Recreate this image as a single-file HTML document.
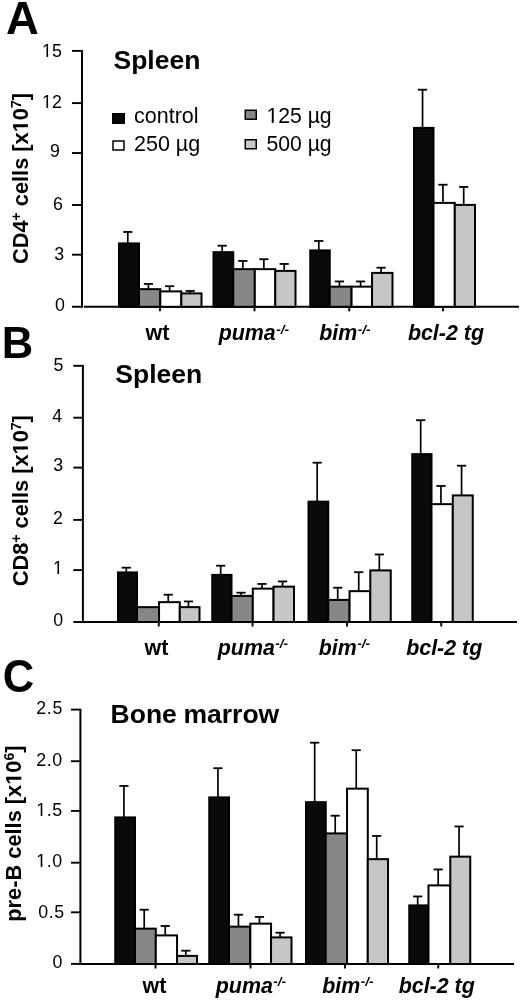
<!DOCTYPE html>
<html><head><meta charset="utf-8"><style>
html,body{margin:0;padding:0;background:#fff;}
svg{display:block;filter:grayscale(1);}
text{font-family:"Liberation Sans",sans-serif;fill:#000;}
</style></head><body>
<svg width="520" height="1001" viewBox="0 0 520 1001">
<rect width="520" height="1001" fill="#fff"/>
<text transform="translate(5.9,33.6) scale(1.045,1.07)" font-size="43.5" font-weight="bold">A</text>
<text x="113.5" y="68.6" font-size="26.5" font-weight="bold">Spleen</text>
<line x1="82" y1="50" x2="82" y2="307.8" stroke="#000" stroke-width="2"/>
<line x1="72" y1="50.90" x2="82" y2="50.90" stroke="#000" stroke-width="1.9"/>
<line x1="72" y1="103.10" x2="82" y2="103.10" stroke="#000" stroke-width="1.9"/>
<line x1="72" y1="153.00" x2="82" y2="153.00" stroke="#000" stroke-width="1.9"/>
<line x1="72" y1="205.00" x2="82" y2="205.00" stroke="#000" stroke-width="1.9"/>
<line x1="72" y1="254.70" x2="82" y2="254.70" stroke="#000" stroke-width="1.9"/>
<line x1="72" y1="306.75" x2="82" y2="306.75" stroke="#000" stroke-width="1.9"/>
<text x="61.85" y="56.63" font-size="17.8" text-anchor="end">15</text>
<text x="61.85" y="107.88" font-size="17.8" text-anchor="end">12</text>
<text x="59.80" y="157.13" font-size="17.8" text-anchor="end">9</text>
<text x="62.90" y="210.43" font-size="17.8" text-anchor="end">6</text>
<text x="64.10" y="260.08" font-size="17.8" text-anchor="end">3</text>
<text x="65.00" y="311.03" font-size="17.8" text-anchor="end">0</text>
<line x1="84" y1="306.8" x2="519" y2="306.8" stroke="#000" stroke-width="2"/>
<line x1="160" y1="306.8" x2="160" y2="311.3" stroke="#000" stroke-width="1.9"/>
<line x1="254.5" y1="306.8" x2="254.5" y2="311.3" stroke="#000" stroke-width="1.9"/>
<line x1="349.25" y1="306.8" x2="349.25" y2="311.3" stroke="#000" stroke-width="1.9"/>
<line x1="443" y1="306.8" x2="443" y2="311.3" stroke="#000" stroke-width="1.9"/>
<rect x="119.00" y="243.40" width="20.00" height="63.40" fill="#0a0a0a" stroke="#000" stroke-width="2"/>
<line x1="127.80" y1="243.40" x2="127.80" y2="231.95" stroke="#000" stroke-width="1.7"/>
<line x1="123.20" y1="231.95" x2="132.40" y2="231.95" stroke="#000" stroke-width="1.8"/>
<rect x="139.00" y="289.15" width="21.30" height="17.65" fill="#878787" stroke="#000" stroke-width="2"/>
<line x1="148.45" y1="289.15" x2="148.45" y2="283.95" stroke="#000" stroke-width="1.7"/>
<line x1="143.85" y1="283.95" x2="153.05" y2="283.95" stroke="#000" stroke-width="1.8"/>
<rect x="160.30" y="291.40" width="21.00" height="15.40" fill="#ffffff" stroke="#000" stroke-width="2"/>
<line x1="169.60" y1="291.40" x2="169.60" y2="286.20" stroke="#000" stroke-width="1.7"/>
<line x1="165.00" y1="286.20" x2="174.20" y2="286.20" stroke="#000" stroke-width="1.8"/>
<rect x="181.30" y="293.40" width="20.20" height="13.40" fill="#c6c6c6" stroke="#000" stroke-width="2"/>
<line x1="190.20" y1="293.40" x2="190.20" y2="290.95" stroke="#000" stroke-width="1.7"/>
<line x1="185.60" y1="290.95" x2="194.80" y2="290.95" stroke="#000" stroke-width="1.8"/>
<rect x="213.50" y="252.15" width="19.75" height="54.65" fill="#0a0a0a" stroke="#000" stroke-width="2"/>
<line x1="222.18" y1="252.15" x2="222.18" y2="245.70" stroke="#000" stroke-width="1.7"/>
<line x1="217.58" y1="245.70" x2="226.78" y2="245.70" stroke="#000" stroke-width="1.8"/>
<rect x="233.25" y="269.15" width="21.55" height="37.65" fill="#878787" stroke="#000" stroke-width="2"/>
<line x1="242.83" y1="269.15" x2="242.83" y2="260.95" stroke="#000" stroke-width="1.7"/>
<line x1="238.23" y1="260.95" x2="247.43" y2="260.95" stroke="#000" stroke-width="1.8"/>
<rect x="254.80" y="269.15" width="20.50" height="37.65" fill="#ffffff" stroke="#000" stroke-width="2"/>
<line x1="263.85" y1="269.15" x2="263.85" y2="259.20" stroke="#000" stroke-width="1.7"/>
<line x1="259.25" y1="259.20" x2="268.45" y2="259.20" stroke="#000" stroke-width="1.8"/>
<rect x="275.30" y="270.90" width="20.20" height="35.90" fill="#c6c6c6" stroke="#000" stroke-width="2"/>
<line x1="284.20" y1="270.90" x2="284.20" y2="263.95" stroke="#000" stroke-width="1.7"/>
<line x1="279.60" y1="263.95" x2="288.80" y2="263.95" stroke="#000" stroke-width="1.8"/>
<rect x="310.25" y="250.40" width="19.50" height="56.40" fill="#0a0a0a" stroke="#000" stroke-width="2"/>
<line x1="318.80" y1="250.40" x2="318.80" y2="240.95" stroke="#000" stroke-width="1.7"/>
<line x1="314.20" y1="240.95" x2="323.40" y2="240.95" stroke="#000" stroke-width="1.8"/>
<rect x="329.75" y="286.65" width="21.80" height="20.15" fill="#878787" stroke="#000" stroke-width="2"/>
<line x1="339.45" y1="286.65" x2="339.45" y2="281.45" stroke="#000" stroke-width="1.7"/>
<line x1="334.85" y1="281.45" x2="344.05" y2="281.45" stroke="#000" stroke-width="1.8"/>
<rect x="351.55" y="286.65" width="20.50" height="20.15" fill="#ffffff" stroke="#000" stroke-width="2"/>
<line x1="360.60" y1="286.65" x2="360.60" y2="281.45" stroke="#000" stroke-width="1.7"/>
<line x1="356.00" y1="281.45" x2="365.20" y2="281.45" stroke="#000" stroke-width="1.8"/>
<rect x="372.05" y="272.90" width="20.45" height="33.90" fill="#c6c6c6" stroke="#000" stroke-width="2"/>
<line x1="381.07" y1="272.90" x2="381.07" y2="267.70" stroke="#000" stroke-width="1.7"/>
<line x1="376.47" y1="267.70" x2="385.68" y2="267.70" stroke="#000" stroke-width="1.8"/>
<rect x="414.00" y="127.90" width="19.50" height="178.90" fill="#0a0a0a" stroke="#000" stroke-width="2"/>
<line x1="422.55" y1="127.90" x2="422.55" y2="89.70" stroke="#000" stroke-width="1.7"/>
<line x1="417.95" y1="89.70" x2="427.15" y2="89.70" stroke="#000" stroke-width="1.8"/>
<rect x="433.50" y="202.90" width="21.30" height="103.90" fill="#ffffff" stroke="#000" stroke-width="2"/>
<line x1="442.95" y1="202.90" x2="442.95" y2="184.70" stroke="#000" stroke-width="1.7"/>
<line x1="438.35" y1="184.70" x2="447.55" y2="184.70" stroke="#000" stroke-width="1.8"/>
<rect x="454.80" y="204.90" width="20.20" height="101.90" fill="#c6c6c6" stroke="#000" stroke-width="2"/>
<line x1="463.70" y1="204.90" x2="463.70" y2="186.95" stroke="#000" stroke-width="1.7"/>
<line x1="459.10" y1="186.95" x2="468.30" y2="186.95" stroke="#000" stroke-width="1.8"/>
<rect x="113" y="114" width="11" height="9" fill="#0a0a0a" stroke="#000" stroke-width="2"/>
<rect x="113" y="141" width="11" height="9" fill="#fff" stroke="#000" stroke-width="1.5"/>
<rect x="245.25" y="110.25" width="11" height="9" fill="#878787" stroke="#000" stroke-width="1.5"/>
<rect x="245.25" y="139.75" width="11" height="9" fill="#c6c6c6" stroke="#000" stroke-width="1.5"/>
<text x="134" y="123.4" font-size="21.5">control</text>
<text x="134" y="151.4" font-size="21.5">250 µg</text>
<text x="266.4" y="122.6" font-size="21.2">125 µg</text>
<text x="266.4" y="151.4" font-size="21.2">500 µg</text>
<text transform="translate(27.9,178.5) rotate(-90)" text-anchor="middle" font-size="21.8" font-weight="bold">CD4<tspan font-size="14" dy="-7.2">+</tspan><tspan dy="7.2"> cells [x10</tspan><tspan font-size="14" dy="-7.2">7</tspan><tspan dy="7.2">]</tspan></text>
<text x="145.5" y="340.4" font-size="21.4" font-weight="bold" font-style="normal">wt</text>
<text x="218.7" y="340.4" font-size="21.4" font-weight="bold" font-style="italic">puma<tspan font-size="13.6" dx="0.4" dy="-6.6">-/-</tspan></text>
<text x="319.3" y="340.4" font-size="21.4" font-weight="bold" font-style="italic">bim<tspan font-size="13.6" dx="0.4" dy="-6.6">-/-</tspan></text>
<text x="407.9" y="340.4" font-size="21.4" font-weight="bold" font-style="italic">bcl-2 tg</text>
<text transform="translate(1.8,357.5) scale(1,1.03)" font-size="43.5" font-weight="bold">B</text>
<text x="115.3" y="383.2" font-size="26.5" font-weight="bold">Spleen</text>
<line x1="82.9" y1="364.9" x2="82.9" y2="623" stroke="#000" stroke-width="2"/>
<line x1="73.3" y1="365.80" x2="82.9" y2="365.80" stroke="#000" stroke-width="1.9"/>
<line x1="73.3" y1="417.70" x2="82.9" y2="417.70" stroke="#000" stroke-width="1.9"/>
<line x1="73.3" y1="467.60" x2="82.9" y2="467.60" stroke="#000" stroke-width="1.9"/>
<line x1="73.3" y1="519.90" x2="82.9" y2="519.90" stroke="#000" stroke-width="1.9"/>
<line x1="73.3" y1="570.10" x2="82.9" y2="570.10" stroke="#000" stroke-width="1.9"/>
<line x1="73.3" y1="622.00" x2="82.9" y2="622.00" stroke="#000" stroke-width="1.9"/>
<text x="63.40" y="371.33" font-size="17.8" text-anchor="end">5</text>
<text x="62.20" y="421.93" font-size="17.8" text-anchor="end">4</text>
<text x="63.10" y="470.98" font-size="17.8" text-anchor="end">3</text>
<text x="62.85" y="523.53" font-size="17.8" text-anchor="end">2</text>
<text x="62.90" y="574.13" font-size="17.8" text-anchor="end">1</text>
<text x="63.10" y="625.83" font-size="17.8" text-anchor="end">0</text>
<line x1="82.9" y1="622" x2="517" y2="622" stroke="#000" stroke-width="2"/>
<line x1="158.75" y1="622" x2="158.75" y2="626.5" stroke="#000" stroke-width="1.9"/>
<line x1="252.5" y1="622" x2="252.5" y2="626.5" stroke="#000" stroke-width="1.9"/>
<line x1="347" y1="622" x2="347" y2="626.5" stroke="#000" stroke-width="1.9"/>
<line x1="441.25" y1="622" x2="441.25" y2="626.5" stroke="#000" stroke-width="1.9"/>
<rect x="118.00" y="572.40" width="19.00" height="49.60" fill="#0a0a0a" stroke="#000" stroke-width="2"/>
<line x1="126.30" y1="572.40" x2="126.30" y2="567.70" stroke="#000" stroke-width="1.7"/>
<line x1="121.70" y1="567.70" x2="130.90" y2="567.70" stroke="#000" stroke-width="1.8"/>
<rect x="137.00" y="607.15" width="22.05" height="14.85" fill="#878787" stroke="#000" stroke-width="2"/>
<rect x="159.05" y="602.15" width="20.75" height="19.85" fill="#ffffff" stroke="#000" stroke-width="2"/>
<line x1="168.23" y1="602.15" x2="168.23" y2="594.70" stroke="#000" stroke-width="1.7"/>
<line x1="163.63" y1="594.70" x2="172.83" y2="594.70" stroke="#000" stroke-width="1.8"/>
<rect x="179.80" y="607.15" width="19.70" height="14.85" fill="#c6c6c6" stroke="#000" stroke-width="2"/>
<line x1="188.45" y1="607.15" x2="188.45" y2="601.45" stroke="#000" stroke-width="1.7"/>
<line x1="183.85" y1="601.45" x2="193.05" y2="601.45" stroke="#000" stroke-width="1.8"/>
<rect x="212.25" y="574.90" width="19.25" height="47.10" fill="#0a0a0a" stroke="#000" stroke-width="2"/>
<line x1="220.68" y1="574.90" x2="220.68" y2="565.70" stroke="#000" stroke-width="1.7"/>
<line x1="216.08" y1="565.70" x2="225.28" y2="565.70" stroke="#000" stroke-width="1.8"/>
<rect x="231.50" y="595.90" width="21.30" height="26.10" fill="#878787" stroke="#000" stroke-width="2"/>
<line x1="240.95" y1="595.90" x2="240.95" y2="592.70" stroke="#000" stroke-width="1.7"/>
<line x1="236.35" y1="592.70" x2="245.55" y2="592.70" stroke="#000" stroke-width="1.8"/>
<rect x="252.80" y="588.65" width="20.75" height="33.35" fill="#ffffff" stroke="#000" stroke-width="2"/>
<line x1="261.98" y1="588.65" x2="261.98" y2="583.95" stroke="#000" stroke-width="1.7"/>
<line x1="257.38" y1="583.95" x2="266.58" y2="583.95" stroke="#000" stroke-width="1.8"/>
<rect x="273.55" y="586.65" width="20.45" height="35.35" fill="#c6c6c6" stroke="#000" stroke-width="2"/>
<line x1="282.57" y1="586.65" x2="282.57" y2="581.45" stroke="#000" stroke-width="1.7"/>
<line x1="277.97" y1="581.45" x2="287.18" y2="581.45" stroke="#000" stroke-width="1.8"/>
<rect x="308.50" y="501.65" width="19.75" height="120.35" fill="#0a0a0a" stroke="#000" stroke-width="2"/>
<line x1="317.18" y1="501.65" x2="317.18" y2="462.70" stroke="#000" stroke-width="1.7"/>
<line x1="312.57" y1="462.70" x2="321.78" y2="462.70" stroke="#000" stroke-width="1.8"/>
<rect x="328.25" y="599.90" width="21.30" height="22.10" fill="#878787" stroke="#000" stroke-width="2"/>
<line x1="337.70" y1="599.90" x2="337.70" y2="587.70" stroke="#000" stroke-width="1.7"/>
<line x1="333.10" y1="587.70" x2="342.30" y2="587.70" stroke="#000" stroke-width="1.8"/>
<rect x="349.55" y="591.15" width="20.75" height="30.85" fill="#ffffff" stroke="#000" stroke-width="2"/>
<line x1="358.73" y1="591.15" x2="358.73" y2="572.20" stroke="#000" stroke-width="1.7"/>
<line x1="354.12" y1="572.20" x2="363.33" y2="572.20" stroke="#000" stroke-width="1.8"/>
<rect x="370.30" y="570.40" width="20.45" height="51.60" fill="#c6c6c6" stroke="#000" stroke-width="2"/>
<line x1="379.32" y1="570.40" x2="379.32" y2="554.45" stroke="#000" stroke-width="1.7"/>
<line x1="374.72" y1="554.45" x2="383.93" y2="554.45" stroke="#000" stroke-width="1.8"/>
<rect x="412.25" y="454.15" width="19.25" height="167.85" fill="#0a0a0a" stroke="#000" stroke-width="2"/>
<line x1="420.68" y1="454.15" x2="420.68" y2="420.20" stroke="#000" stroke-width="1.7"/>
<line x1="416.07" y1="420.20" x2="425.28" y2="420.20" stroke="#000" stroke-width="1.8"/>
<rect x="431.50" y="504.15" width="21.30" height="117.85" fill="#ffffff" stroke="#000" stroke-width="2"/>
<line x1="440.95" y1="504.15" x2="440.95" y2="485.95" stroke="#000" stroke-width="1.7"/>
<line x1="436.35" y1="485.95" x2="445.55" y2="485.95" stroke="#000" stroke-width="1.8"/>
<rect x="452.80" y="495.40" width="19.95" height="126.60" fill="#c6c6c6" stroke="#000" stroke-width="2"/>
<line x1="461.57" y1="495.40" x2="461.57" y2="465.70" stroke="#000" stroke-width="1.7"/>
<line x1="456.97" y1="465.70" x2="466.18" y2="465.70" stroke="#000" stroke-width="1.8"/>
<text transform="translate(27.9,500.7) rotate(-90)" text-anchor="middle" font-size="21.8" font-weight="bold">CD8<tspan font-size="14" dy="-7.2">+</tspan><tspan dy="7.2"> cells [x10</tspan><tspan font-size="14" dy="-7.2">7</tspan><tspan dy="7.2">]</tspan></text>
<text x="144.5" y="655" font-size="21.4" font-weight="bold" font-style="normal">wt</text>
<text x="217.8" y="655" font-size="21.4" font-weight="bold" font-style="italic">puma<tspan font-size="13.6" dx="0.4" dy="-6.6">-/-</tspan></text>
<text x="318.8" y="655" font-size="21.4" font-weight="bold" font-style="italic">bim<tspan font-size="13.6" dx="0.4" dy="-6.6">-/-</tspan></text>
<text x="406.2" y="655" font-size="21.4" font-weight="bold" font-style="italic">bcl-2 tg</text>
<text transform="translate(2.8,691.5) scale(1,1.07)" font-size="43.5" font-weight="bold">C</text>
<text x="110.6" y="722.6" font-size="26.5" font-weight="bold" word-spacing="-0.7">Bone marrow</text>
<line x1="80.4" y1="708.7" x2="80.4" y2="965" stroke="#000" stroke-width="2"/>
<line x1="71" y1="709.60" x2="80.4" y2="709.60" stroke="#000" stroke-width="1.9"/>
<line x1="71" y1="761.20" x2="80.4" y2="761.20" stroke="#000" stroke-width="1.9"/>
<line x1="71" y1="810.90" x2="80.4" y2="810.90" stroke="#000" stroke-width="1.9"/>
<line x1="71" y1="862.70" x2="80.4" y2="862.70" stroke="#000" stroke-width="1.9"/>
<line x1="71" y1="912.30" x2="80.4" y2="912.30" stroke="#000" stroke-width="1.9"/>
<line x1="71" y1="963.90" x2="80.4" y2="963.90" stroke="#000" stroke-width="1.9"/>
<text x="62.90" y="713.78" font-size="17.8" text-anchor="end" letter-spacing="0.6">2.5</text>
<text x="62.80" y="765.73" font-size="17.8" text-anchor="end" letter-spacing="0.6">2.0</text>
<text x="62.80" y="815.73" font-size="17.8" text-anchor="end" letter-spacing="0.6">1.5</text>
<text x="62.80" y="867.33" font-size="17.8" text-anchor="end" letter-spacing="0.6">1.0</text>
<text x="64.85" y="917.73" font-size="17.8" text-anchor="end" letter-spacing="0.6">0.5</text>
<text x="62.30" y="968.23" font-size="17.8" text-anchor="end">0</text>
<line x1="80.4" y1="964" x2="514" y2="964" stroke="#000" stroke-width="2"/>
<line x1="155.5" y1="964" x2="155.5" y2="968.5" stroke="#000" stroke-width="1.9"/>
<line x1="250.5" y1="964" x2="250.5" y2="968.5" stroke="#000" stroke-width="1.9"/>
<line x1="345" y1="964" x2="345" y2="968.5" stroke="#000" stroke-width="1.9"/>
<line x1="438.25" y1="964" x2="438.25" y2="968.5" stroke="#000" stroke-width="1.9"/>
<rect x="115.25" y="817.40" width="19.75" height="146.60" fill="#0a0a0a" stroke="#000" stroke-width="2"/>
<line x1="123.92" y1="817.40" x2="123.92" y2="785.95" stroke="#000" stroke-width="1.7"/>
<line x1="119.33" y1="785.95" x2="128.53" y2="785.95" stroke="#000" stroke-width="1.8"/>
<rect x="135.00" y="928.65" width="20.80" height="35.35" fill="#878787" stroke="#000" stroke-width="2"/>
<line x1="144.20" y1="928.65" x2="144.20" y2="909.70" stroke="#000" stroke-width="1.7"/>
<line x1="139.60" y1="909.70" x2="148.80" y2="909.70" stroke="#000" stroke-width="1.8"/>
<rect x="155.80" y="935.40" width="21.25" height="28.60" fill="#ffffff" stroke="#000" stroke-width="2"/>
<line x1="165.23" y1="935.40" x2="165.23" y2="925.95" stroke="#000" stroke-width="1.7"/>
<line x1="160.63" y1="925.95" x2="169.83" y2="925.95" stroke="#000" stroke-width="1.8"/>
<rect x="177.05" y="955.90" width="19.95" height="8.10" fill="#c6c6c6" stroke="#000" stroke-width="2"/>
<line x1="185.83" y1="955.90" x2="185.83" y2="950.70" stroke="#000" stroke-width="1.7"/>
<line x1="181.23" y1="950.70" x2="190.43" y2="950.70" stroke="#000" stroke-width="1.8"/>
<rect x="209.25" y="797.40" width="19.75" height="166.60" fill="#0a0a0a" stroke="#000" stroke-width="2"/>
<line x1="217.93" y1="797.40" x2="217.93" y2="768.20" stroke="#000" stroke-width="1.7"/>
<line x1="213.33" y1="768.20" x2="222.53" y2="768.20" stroke="#000" stroke-width="1.8"/>
<rect x="229.00" y="926.65" width="21.30" height="37.35" fill="#878787" stroke="#000" stroke-width="2"/>
<line x1="238.45" y1="926.65" x2="238.45" y2="914.70" stroke="#000" stroke-width="1.7"/>
<line x1="233.85" y1="914.70" x2="243.05" y2="914.70" stroke="#000" stroke-width="1.8"/>
<rect x="250.30" y="923.65" width="20.75" height="40.35" fill="#ffffff" stroke="#000" stroke-width="2"/>
<line x1="259.48" y1="923.65" x2="259.48" y2="916.95" stroke="#000" stroke-width="1.7"/>
<line x1="254.88" y1="916.95" x2="264.08" y2="916.95" stroke="#000" stroke-width="1.8"/>
<rect x="271.05" y="937.40" width="20.45" height="26.60" fill="#c6c6c6" stroke="#000" stroke-width="2"/>
<line x1="280.07" y1="937.40" x2="280.07" y2="932.70" stroke="#000" stroke-width="1.7"/>
<line x1="275.47" y1="932.70" x2="284.68" y2="932.70" stroke="#000" stroke-width="1.8"/>
<rect x="306.00" y="802.15" width="19.75" height="161.85" fill="#0a0a0a" stroke="#000" stroke-width="2"/>
<line x1="314.68" y1="802.15" x2="314.68" y2="742.70" stroke="#000" stroke-width="1.7"/>
<line x1="310.07" y1="742.70" x2="319.28" y2="742.70" stroke="#000" stroke-width="1.8"/>
<rect x="325.75" y="833.40" width="21.30" height="130.60" fill="#878787" stroke="#000" stroke-width="2"/>
<line x1="335.20" y1="833.40" x2="335.20" y2="815.70" stroke="#000" stroke-width="1.7"/>
<line x1="330.60" y1="815.70" x2="339.80" y2="815.70" stroke="#000" stroke-width="1.8"/>
<rect x="347.05" y="788.65" width="20.75" height="175.35" fill="#ffffff" stroke="#000" stroke-width="2"/>
<line x1="356.23" y1="788.65" x2="356.23" y2="750.20" stroke="#000" stroke-width="1.7"/>
<line x1="351.62" y1="750.20" x2="360.83" y2="750.20" stroke="#000" stroke-width="1.8"/>
<rect x="367.80" y="859.15" width="20.20" height="104.85" fill="#c6c6c6" stroke="#000" stroke-width="2"/>
<line x1="376.70" y1="859.15" x2="376.70" y2="835.95" stroke="#000" stroke-width="1.7"/>
<line x1="372.10" y1="835.95" x2="381.30" y2="835.95" stroke="#000" stroke-width="1.8"/>
<rect x="409.25" y="905.40" width="19.25" height="58.60" fill="#0a0a0a" stroke="#000" stroke-width="2"/>
<line x1="417.68" y1="905.40" x2="417.68" y2="896.45" stroke="#000" stroke-width="1.7"/>
<line x1="413.07" y1="896.45" x2="422.28" y2="896.45" stroke="#000" stroke-width="1.8"/>
<rect x="428.50" y="885.40" width="21.80" height="78.60" fill="#ffffff" stroke="#000" stroke-width="2"/>
<line x1="438.20" y1="885.40" x2="438.20" y2="869.45" stroke="#000" stroke-width="1.7"/>
<line x1="433.60" y1="869.45" x2="442.80" y2="869.45" stroke="#000" stroke-width="1.8"/>
<rect x="450.30" y="856.65" width="19.95" height="107.35" fill="#c6c6c6" stroke="#000" stroke-width="2"/>
<line x1="459.07" y1="856.65" x2="459.07" y2="826.45" stroke="#000" stroke-width="1.7"/>
<line x1="454.47" y1="826.45" x2="463.68" y2="826.45" stroke="#000" stroke-width="1.8"/>
<text transform="translate(21.3,833.6) rotate(-90)" text-anchor="middle" font-size="21.8" font-weight="bold">pre-B cells [x10<tspan font-size="14" dy="-7.2">6</tspan><tspan dy="7.2">]</tspan></text>
<text x="142.5" y="993" font-size="21.4" font-weight="bold" font-style="normal">wt</text>
<text x="215.8" y="993" font-size="21.4" font-weight="bold" font-style="italic">puma<tspan font-size="13.6" dx="0.4" dy="-6.6">-/-</tspan></text>
<text x="322.3" y="993" font-size="21.4" font-weight="bold" font-style="italic">bim<tspan font-size="13.6" dx="0.4" dy="-6.6">-/-</tspan></text>
<text x="398.7" y="993" font-size="21.4" font-weight="bold" font-style="italic">bcl-2 tg</text>
<rect x="42.82" y="55" width="8.87" height="2" fill="#fff"/>
<rect x="46.54" y="54.5" width="1.57" height="2.5" fill="#000"/>
<rect x="42.82" y="106" width="8.87" height="2" fill="#fff"/>
<rect x="46.54" y="105.5" width="1.57" height="2.5" fill="#000"/>
<rect x="267.41" y="121" width="10.34" height="2" fill="#fff"/>
<rect x="271.73" y="120.5" width="1.87" height="2.5" fill="#000"/>
<g transform="translate(27.9,178.5) rotate(-90)"><rect x="47.10" y="-4.02" width="11.34" height="5.22" fill="#fff"/><rect x="51.31" y="-4.82" width="2.99" height="4.82" fill="#000"/></g>
<rect x="53.77" y="572" width="8.87" height="2" fill="#fff"/>
<rect x="57.49" y="571.5" width="1.57" height="2.5" fill="#000"/>
<g transform="translate(27.9,500.7) rotate(-90)"><rect x="47.10" y="-4.02" width="11.34" height="5.22" fill="#fff"/><rect x="51.31" y="-4.82" width="2.99" height="4.82" fill="#000"/></g>
<rect x="37.02" y="814" width="8.87" height="2" fill="#fff"/>
<rect x="40.74" y="813.5" width="1.57" height="2.5" fill="#000"/>
<rect x="37.02" y="865" width="8.87" height="2" fill="#fff"/>
<rect x="40.74" y="864.5" width="1.57" height="2.5" fill="#000"/>
<g transform="translate(21.3,833.6) rotate(-90)"><rect x="49.65" y="-4.02" width="11.34" height="5.22" fill="#fff"/><rect x="53.86" y="-4.82" width="2.99" height="4.82" fill="#000"/></g>
</svg>
</body></html>
